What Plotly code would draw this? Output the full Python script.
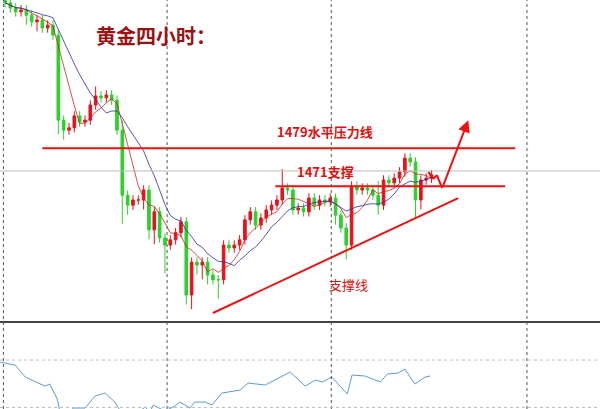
import plotly.graph_objects as go
import pandas as pd

close = [1509.6,1508.5,1507.7,1508.1,1507.0,1505.6,1506.0,1504.3,1504.9,1502.8,
         1484.9,1482.8,1483.3,1485.8,1484.5,1484.9,1488.1,1490.0,1489.6,1490.2,
         1489.1,1482.8,1469.1,1467.0,1468.1,1468.1,1470.2,1461.8,1465.6,1460.1,
         1458.6,1459.7,1461.2,1463.5,1448.1,1455.0,1454.4,1455.0,1452.3,1451.3,
         1451.3,1458.6,1458.0,1458.6,1459.7,1463.9,1465.6,1462.8,1464.3,1466.0,
         1467.0,1468.1,1470.6,1470.2,1466.0,1466.4,1465.6,1468.5,1467.0,1468.1,
         1467.7,1468.5,1464.9,1462.2,1458.6,1471.0,1470.2,1470.6,1470.2,1469.1,
         1467.0,1472.3,1471.7,1472.7,1474.0,1476.9,1476.1,1468.1,1472.3,1472.7,1473.4]
open_ = [1510.5] + close[:-1]
wick_up = [1,1,1,1,1,1,1,1,1,1, 1,1,1,1,1,1,1,2,1,1, 1,1,2,1,1,1,1,1,1,1,
           1,1,1,1,1,1,1,1,1,1, 1,1,1,1,1,1,1,1,1,1, 1,1,4,1,1,1,1,1,1,1,
           1,1,1,1,1,1,1,1,1,1, 3,1,1,1,1,1,1,1,1,1,1]
wick_dn = [1,1,1,1,2,1,2,1,1,1, 3,2,1,1,1,1,1,1,1,1, 1,1,6,2,1,1,2,2,3,1,
           6,1,1,1,2,3,2,3,2,1, 4,1,1,1,1,1,1,1,1,1, 1,1,1,1,1,1,1,1,1,1,
           1,1,2,1,3,1,1,1,1,1, 2,1,1,1,1,1,1,4,2,1,1]
idx = list(range(len(close)))
high = [max(o, c) + w for o, c, w in zip(open_, close, wick_up)]
low = [min(o, c) - w for o, c, w in zip(open_, close, wick_dn)]
ma_fast = pd.Series(close).rolling(5, min_periods=1).mean()
ma_slow = pd.Series(close).rolling(10, min_periods=1).mean()

rsi_x = [-0.9,1.9,3.8,7.5,8.4,9.8,10.3,12.2,12.8,15,16.9,18.8,20.6,22.1,25,26.3,27.2,27.8,30,31.9,
         32.8,34.7,35.6,37.5,38.8,40.7,44.1,45.6,48.8,53.5,56.3,58.2,59.5,61.3,64.2,65.1,67.5,70.4,
         71.7,73.7,75,76.9,78.8,79.7]
rsi_v = [68.3,65.8,55.8,48.3,50,37.5,26.7,26.7,30,30,40,42.5,35,24.2,26.7,30.8,26.7,32.5,27.5,31.7,
         35,30,35,35,32.5,42.5,45,50.8,49.2,60,48.3,53.3,51.7,55.8,41.7,57.5,56.7,51.7,58.3,59.2,
         62.5,50,55.8,56.7]

fig = go.Figure()
fig.add_trace(go.Candlestick(x=idx, open=open_, high=high, low=low, close=close,
    increasing=dict(line=dict(color="#e8101a", width=1), fillcolor="#e8101a"),
    decreasing=dict(line=dict(color="#2ad12a", width=1), fillcolor="#2ad12a"),
    whiskerwidth=0, xaxis="x", yaxis="y"))
fig.add_trace(go.Scatter(x=idx, y=ma_fast, mode="lines", line=dict(color="#d42020", width=0.8)))
fig.add_trace(go.Scatter(x=idx, y=ma_slow, mode="lines", line=dict(color="#2a2ab0", width=0.8)))
fig.add_trace(go.Scatter(x=rsi_x, y=rsi_v, mode="lines", line=dict(color="#5a9ad8", width=1),
                         xaxis="x2", yaxis="y2"))

red = "#ee1111"
shapes = [
    dict(type="line", xref="x", yref="y", x0=7.0, x1=95.7, y0=1479, y1=1479, line=dict(color=red, width=2)),
    dict(type="line", xref="x", yref="y", x0=50.7, x1=93.8, y0=1471, y1=1471, line=dict(color=red, width=2)),
    dict(type="line", xref="x", yref="y", x0=39.0, x1=85.0, y0=1444.3, y1=1468.5, line=dict(color=red, width=2)),
    dict(type="line", xref="x", yref="y", x0=79.4, x1=80.3, y0=1474.0, y1=1472.5, line=dict(color=red, width=2)),
    dict(type="line", xref="x", yref="y", x0=80.3, x1=81.0, y0=1472.5, y1=1473.3, line=dict(color=red, width=2)),
    dict(type="line", xref="x", yref="y", x0=81.0, x1=82.0, y0=1473.3, y1=1470.6, line=dict(color=red, width=2)),
    dict(type="line", xref="paper", yref="paper", x0=0, x1=1, y0=0.2127, y1=0.2127, line=dict(color="#444", width=2)),
]
for xv in [-0.3, 30.4, 61.2, 97.9]:
    shapes.append(dict(type="line", xref="x", yref="paper", x0=xv, x1=xv, y0=0, y1=1,
                       line=dict(color="#555", width=1, dash="dot")))
shapes.append(dict(type="line", xref="paper", yref="y", x0=0, x1=1, y0=1474.2, y1=1474.2,
                   line=dict(color="#bbb", width=1)))
for v in [70, 30.5]:
    shapes.append(dict(type="line", xref="paper", yref="y2", x0=0, x1=1, y0=v, y1=v,
                       line=dict(color="#bbb", width=1, dash="dot")))

def txt(x, y, t, size, color):
    return dict(x=x / 600, y=1 - y / 409, xref="paper", yref="paper", text=t, showarrow=False,
                xanchor="center", yanchor="middle",
                font=dict(size=size, color=color, family="Noto Sans CJK SC"))

ann = [
    dict(x=86.9, y=1484.9, ax=82.0, ay=1470.6, xref="x", yref="y", axref="x", ayref="y",
         text="", showarrow=True, arrowhead=2, arrowsize=1.2, arrowwidth=2, arrowcolor=red),
    txt(156, 35, "<b>黄金四小时：</b>", 20, "#9a1212"),
    txt(325, 132, "<b>1479水平压力线</b>", 13, "#e01010"),
    txt(325, 172, "<b>1471支撑</b>", 13, "#e01010"),
    txt(348, 284, "支撑线", 13, "#e01010"),
]

ax_x = dict(range=[-0.94, 111.6], visible=False, showgrid=False, rangeslider=dict(visible=False))
fig.update_layout(
    width=600, height=409, margin=dict(l=0, r=0, t=0, b=0), showlegend=False,
    paper_bgcolor="white", plot_bgcolor="white",
    xaxis=dict(**ax_x, domain=[0, 1], anchor="y"),
    yaxis=dict(range=[1442.4, 1510.2], domain=[0.2127, 1], visible=False, showgrid=False),
    xaxis2=dict(range=[-0.94, 111.6], visible=False, domain=[0, 1], anchor="y2"),
    yaxis2=dict(range=[29.2, 101.7], domain=[0, 0.2127], visible=False, showgrid=False),
    shapes=shapes, annotations=ann,
)
fig.write_html("out.html", config={"displayModeBar": False},
               post_script="document.body.style.margin='0';")
